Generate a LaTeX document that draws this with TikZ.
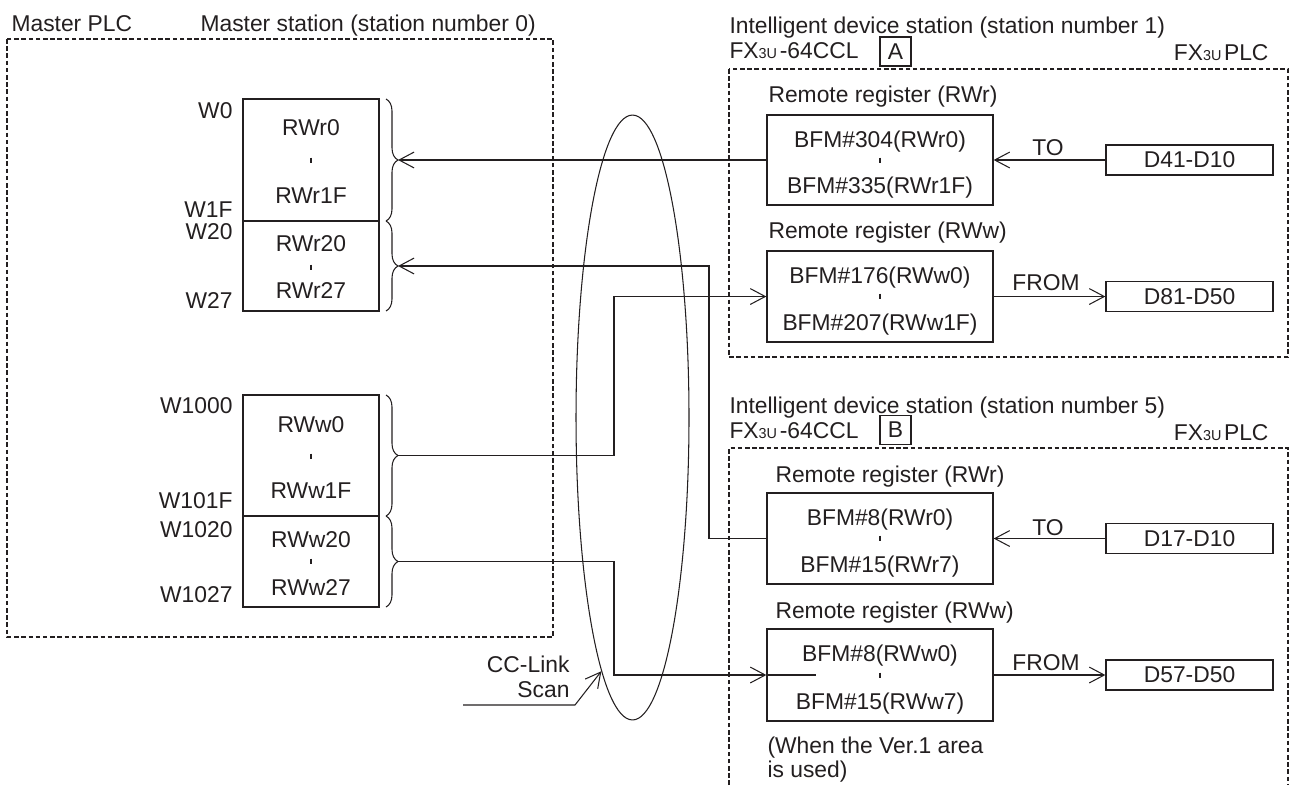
\documentclass[tikz,border=0pt]{standalone}
\usepackage{fontspec}
\setmainfont{Liberation Sans}
\usepackage{tikz}
\usetikzlibrary{arrows.meta,decorations.pathreplacing,shapes.geometric}
\usepackage{xcolor}
\definecolor{ink}{HTML}{231F20}
\newcommand{\fxplc}{FX{\fontsize{8.2pt}{8pt}\selectfont 3U}\kern1.5pt}

\begin{document}
\begin{tikzpicture}[x=0.02cm, y=-0.02cm, line width=0.6pt, color=ink,
  every node/.style={font=\fontsize{13pt}{14pt}\selectfont, inner sep=0pt, text=ink},
  regbox/.style={draw, line width=0.75pt, minimum width=2.72cm},
  bfmbox/.style={draw, line width=0.75pt, minimum width=4.52cm},
  dbox/.style={draw, line width=0.75pt, minimum width=3.34cm, minimum height=0.6cm},
  letterbox/.style={draw, line width=0.75pt, minimum width=0.62cm, minimum height=0.58cm},
  dashbox/.style={dash pattern=on 2.6pt off 1.5pt, line width=0.6pt},
  brc/.style={decorate, decoration={brace, amplitude=0.24cm}},
  tick/.style={line width=1.1pt},
  arr/.style={-{Straight Barb[length=8.5pt, width=9pt]}}]
  \useasboundingbox (0,0) rectangle (1297,785);

  % master side
  \node[anchor=base west] (mplc) at (11,31) {Master PLC};
  \node[anchor=base west] (mst) at (200,31) {Master station (station number 0)};
  \draw[dashbox] (7,39) rectangle (553,637);

  \node[regbox, minimum height=2.44cm] (mr1) at (311,160) {};
  \node[regbox, minimum height=1.80cm] (mr2) at (311,266) {};
  \node[regbox, minimum height=2.42cm] (mw1) at (311,455.5) {};
  \node[regbox, minimum height=1.82cm] (mw2) at (311,561.5) {};
  \node[anchor=base] (mr1a) at (311,135) {RWr0};
  \node[anchor=base] (mr1b) at (311,203) {RWr1F};
  \node[anchor=base] (mr2a) at (311,251) {RWr20};
  \node[anchor=base] (mr2b) at (311,298) {RWr27};
  \node[anchor=base] (mw1a) at (311,432) {RWw0};
  \node[anchor=base] (mw1b) at (311,498) {RWw1F};
  \node[anchor=base] (mw2a) at (311,547) {RWw20};
  \node[anchor=base] (mw2b) at (311,595) {RWw27};
  \foreach \y/\t in {118/W0, 217/W1F, 239/W20, 308/W27, 413/W1000, 508/W101F, 537/W1020, 602/W1027}
    \node[anchor=base east] (w-\t) at (233,\y) {\t};

  \draw[brc] (386,99) -- (386,221);
  \draw[brc] (386,221) -- (386,311);
  \draw[brc] (386,395) -- (386,516);
  \draw[brc] (386,516) -- (386,607);
  \coordinate (b1) at (398,160);
  \coordinate (b2) at (398,266);
  \coordinate (b3) at (398,455.5);
  \coordinate (b4) at (398,561.5);

  % scan loop
  \node[draw, ellipse, minimum width=2.26cm, minimum height=12.1cm] (scan) at (632.5,417.5) {};
  \node[anchor=base east] (cc1) at (570,672) {CC-Link};
  \node[anchor=base east] (cc2) at (570,697) {Scan};
  \coordinate (l0) at (463,705);
  \coordinate (l1) at (575,705);
  \draw[arr] (l0) -- (l1) -- (scan.263.5);

  % station 1
  \node[anchor=base west] (ta) at (729,33) {Intelligent device station (station number 1)};
  \node[anchor=base west] (ma) at (729,58) {\fxplc-64CCL};
  \node[letterbox] (ka) at (895.5,51.5) {A};
  \node[anchor=base east] (pa) at (1269,60) {\fxplc PLC};
  \draw[dashbox] (729,69) rectangle (1288,357);
  \node[anchor=base west] (rra) at (768,102) {Remote register (RWr)};
  \node[bfmbox, minimum height=1.8cm] (bra) at (880,160) {};
  \node[anchor=base] (bra1) at (880,147) {BFM\#304(RWr0)};
  \node[anchor=base] (bra2) at (880,193) {BFM\#335(RWr1F)};
  \node[anchor=base] (toa) at (1048,155) {TO};
  \node[dbox] (da1) at (1189.5,160) {D41-D10};
  \node[anchor=base west] (rwa) at (768,238) {Remote register (RWw)};
  \node[bfmbox, minimum height=1.82cm] (bwa) at (880,296.5) {};
  \node[anchor=base] (bwa1) at (880,283) {BFM\#176(RWw0)};
  \node[anchor=base] (bwa2) at (880,330) {BFM\#207(RWw1F)};
  \node[anchor=base] (fra) at (1046,290) {FROM};
  \node[dbox] (da2) at (1189.5,296.5) {D81-D50};
  \draw[arr] (da1.west) -- (bra.east);
  \draw[arr] (bwa.east) -- (da2.west);

  % station 5
  \node[anchor=base west] (tb) at (729,413) {Intelligent device station (station number 5)};
  \node[anchor=base west] (mb) at (729,438) {\fxplc-64CCL};
  \node[letterbox] (kb) at (895.5,430) {B};
  \node[anchor=base east] (pb) at (1269,440) {\fxplc PLC};
  \draw[dashbox] (729,785) -- (729,448) -- (1288,448) -- (1288,785);
  \node[anchor=base west] (rrb) at (775,482) {Remote register (RWr)};
  \node[bfmbox, minimum height=1.82cm] (brb) at (880,538.5) {};
  \node[anchor=base] (brb1) at (880,525) {BFM\#8(RWr0)};
  \node[anchor=base] (brb2) at (880,572) {BFM\#15(RWr7)};
  \node[anchor=base] (tob) at (1048,535) {TO};
  \node[dbox] (db1) at (1189.5,538.5) {D17-D10};
  \node[anchor=base west] (rwb) at (775,618) {Remote register (RWw)};
  \node[bfmbox, minimum height=1.84cm] (bwb) at (880,675) {};
  \node[anchor=base] (bwb1) at (880,661) {BFM\#8(RWw0)};
  \node[anchor=base] (bwb2) at (880,709) {BFM\#15(RWw7)};
  \node[anchor=base] (frb) at (1046,670) {FROM};
  \node[dbox] (db2) at (1189.5,675) {D57-D50};
  \node[anchor=base west] (nb1) at (767,753) {(When the Ver.1 area};
  \node[anchor=base west] (nb2) at (767,777) {is used)};
  \draw[arr] (db1.west) -- (brb.east);
  \draw[arr] (bwb.east) -- (db2.west);
  \draw (bwb.west) -- ++(50,0);

  \foreach \x/\y in {311/160, 311/267, 311/456, 311/561, 880/160, 880/296, 880/538, 880/675}
    \draw[tick] (\x,\y-2.5) -- (\x,\y+2.5);

  % link lines
  \coordinate (j1) at (709,0);
  \coordinate (j2) at (614,0);
  \draw[arr] (bra.west) -- (b1);
  \draw[arr] (brb.west) -- (brb.west -| j1) |- (b2);
  \draw[arr] (b3) -- (b3 -| j2) |- (bwa.west);
  \draw[arr] (b4) -- (b4 -| j2) |- (bwb.west);
\end{tikzpicture}
\end{document}
